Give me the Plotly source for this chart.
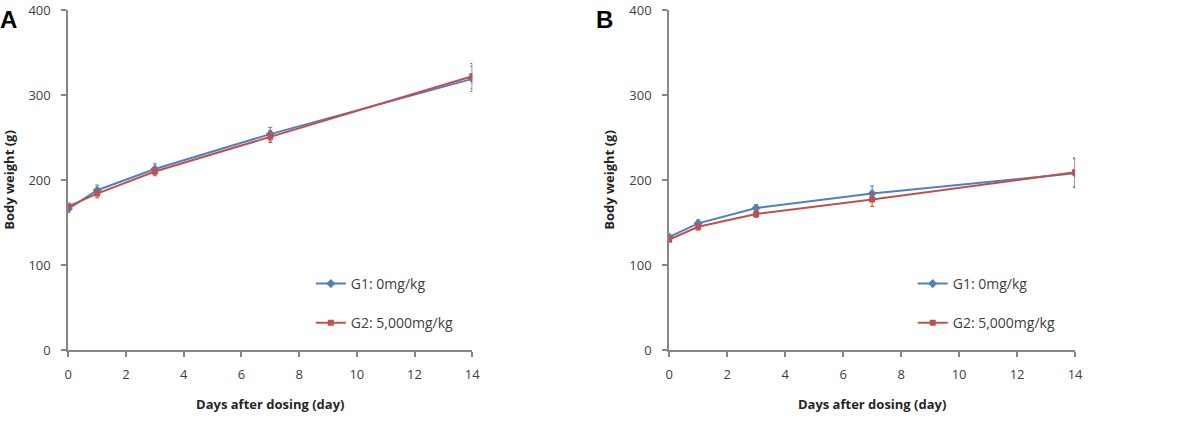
import plotly.graph_objects as go

days = [0, 1, 3, 7, 14]
a_g1 = [166, 188, 213, 254, 319]
a_g1_err = [4, 6, 6, 8, 15]
a_g2 = [169, 184, 210, 251, 322]
a_g2_err = [4, 5, 5, 7, 15]
b_g1 = [133, 149, 167, 184, 208]
b_g1_err = [3, 4, 4, 9, 17]
b_g2 = [130, 145, 160, 177, 209]
b_g2_err = [3, 4, 4, 8, 17]
names = ["G1: 0mg/kg", "G2: 5,000mg/kg"]
blue = "#4F81BD"
red = "#C0504D"

W, H = 1187, 428
fig = go.Figure()

def add(x, y, err, name, color, symbol, xa, ya, leg):
    fig.add_trace(go.Scatter(
        x=x, y=y, name=name, mode="lines+markers",
        line=dict(color=color, width=2),
        marker=dict(symbol=symbol, size=7 if symbol == "diamond" else 6, color=color),
        error_y=dict(type="data", array=err, color=color, thickness=1, width=2),
        xaxis=xa, yaxis=ya, legend=leg, legendgroup=name + leg))

add(days, a_g1, a_g1_err, names[0], blue, "diamond", "x", "y", "legend")
add(days, a_g2, a_g2_err, names[1], red, "square", "x", "y", "legend")
add(days, b_g1, b_g1_err, names[0], blue, "diamond", "x2", "y2", "legend2")
add(days, b_g2, b_g2_err, names[1], red, "square", "x2", "y2", "legend2")

axfont = dict(family="Open Sans, Noto Sans, sans-serif", size=13, color="#404040")
titlefont = dict(family="Open Sans, Noto Sans, sans-serif", size=13, color="#262626", weight="bold")

def xax(domain, anchor):
    return dict(domain=domain, anchor=anchor, range=[0, 14], tickvals=[0, 2, 4, 6, 8, 10, 12, 14],
                showline=True, linecolor="#868686", linewidth=2, ticks="outside", tickcolor="#868686",
                ticklen=5, tickwidth=2, showgrid=False, zeroline=False, tickfont=axfont,
                ticklabelstandoff=6,
                title=dict(text="Days after dosing (day)", font=titlefont, standoff=18))

def yax(domain, anchor):
    return dict(domain=domain, anchor=anchor, range=[0, 400], tickvals=[0, 100, 200, 300, 400],
                showline=True, linecolor="#868686", linewidth=2, ticks="outside", tickcolor="#868686",
                ticklen=5, tickwidth=2, showgrid=False, zeroline=False, tickfont=axfont,
                ticklabelstandoff=8,
                title=dict(text="Body weight (g)", font=titlefont, standoff=12))

legfont = dict(family="Open Sans, Noto Sans, sans-serif", size=14, color="#404040")
fig.update_layout(
    width=W, height=H,
    margin=dict(l=0, r=0, t=10, b=78),
    paper_bgcolor="white", plot_bgcolor="white",
    xaxis=xax([65 / W, 473 / W], "y"),
    yaxis=yax([0, 1], "x"),
    xaxis2=xax([672 / W, 1082 / W], "y2"),
    yaxis2=yax([0, 1], "x2"),
    legend=dict(x=310 / W, y=(350 - 268) / 340, xanchor="left", yanchor="top",
                font=legfont, tracegroupgap=18, bgcolor="rgba(0,0,0,0)", itemwidth=30),
    legend2=dict(x=918 / W, y=(350 - 268) / 340, xanchor="left", yanchor="top",
                 font=legfont, tracegroupgap=18, bgcolor="rgba(0,0,0,0)", itemwidth=30),
    showlegend=True,
    annotations=[
        dict(text="<b>A</b>", x=-6 / W, y=1 - 12 / 428, xref="paper", yref="paper", xanchor="left",
             yanchor="middle", showarrow=False, font=dict(family="Arial, Liberation Sans", size=24, color="black")),
        dict(text="<b>B</b>", x=596 / W, y=1 - 12 / 428, xref="paper", yref="paper", xanchor="left",
             yanchor="middle", showarrow=False, font=dict(family="Arial, Liberation Sans", size=24, color="black")),
    ],
)

fig.write_html("out.html")
